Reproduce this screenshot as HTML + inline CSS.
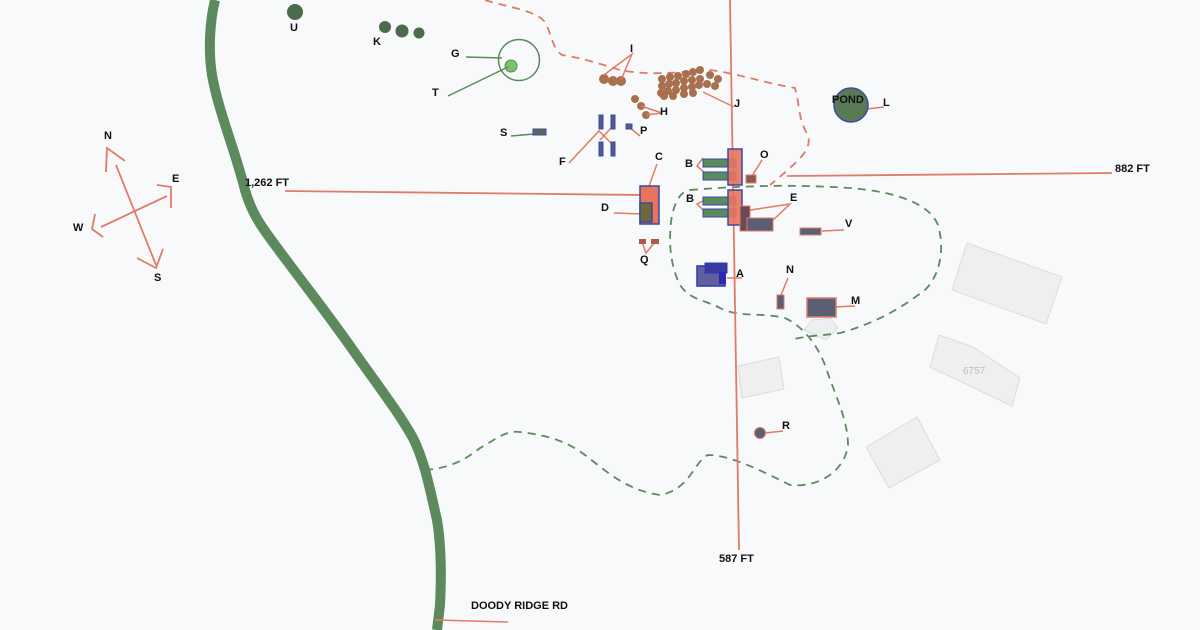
<!DOCTYPE html>
<html><head><meta charset="utf-8"><style>
html,body{margin:0;padding:0;background:#f8f9fb;}
svg{display:block;font-family:"Liberation Sans",sans-serif;}
text{font-size:11px;font-weight:bold;fill:#111;}
</style></head><body>
<svg width="1200" height="630" viewBox="0 0 1200 630" xmlns="http://www.w3.org/2000/svg">
<rect width="1200" height="630" fill="#f8f9fb"/>
<!-- gray buildings -->
<g fill="#efefef" stroke="#dcdcdc" stroke-width="1">
<polygon points="967,243 1062,277 1046,324 952,290"/>
<polygon points="939,335 973,347 1020,378 1012,406 930,367"/>
<polygon points="866,447 917,417 940,460 889,488"/>
<polygon points="738,366 779,357 784,389 742,398"/>
<polygon points="804,330 812,320 830,318 838,328 826,340"/>
</g>
<text x="963" y="374" style="font-size:10px;font-weight:normal;fill:#bbb">6757</text>
<!-- road -->
<path d="M215,0 C210,20 208,50 212,75 C218,110 235,150 245,190 C252,215 262,228 290,265 C310,292 325,310 360,360 C385,395 400,415 413,438 C425,462 430,490 437,520 C442,550 441,585 440,605 L437,630" fill="none" stroke="#5c8a5c" stroke-width="10"/>
<line x1="435" y1="620" x2="508" y2="622" stroke="#e07b67" stroke-width="1.5"/>
<text x="471" y="609">DOODY RIDGE RD</text>
<!-- orange dashed -->
<path d="M485,0 C510,8 535,10 545,22 C552,35 552,48 562,55 C580,58 595,62 620,70 C650,76 680,72 710,70 C740,74 760,82 795,88 C800,105 798,120 808,135 C812,150 800,160 770,185" fill="none" stroke="#e07b67" stroke-width="1.8" stroke-dasharray="8,6"/>
<!-- green dashed -->
<path d="M690,190 C740,186 790,184 850,188 C900,192 930,205 938,225 C945,250 940,275 925,290 C905,305 880,322 840,333 C820,336 810,335 790,340" fill="none" stroke="#5c8a5c" stroke-width="1.8" stroke-dasharray="8,6"/>
<path d="M425,470 C450,468 465,460 480,448 C495,440 505,430 520,432 C545,435 565,440 585,455 C605,470 625,490 660,495 C690,490 695,460 708,455 C730,455 760,470 790,485 C820,488 845,470 848,445 C848,420 835,395 825,365 C815,340 800,325 785,318 C760,312 740,318 720,308 C705,300 690,300 680,285 C670,265 668,240 672,215 C676,200 680,192 690,190" fill="none" stroke="#5c8a5c" stroke-width="1.8" stroke-dasharray="8,6"/>
<!-- measurement lines -->
<g stroke="#e07b67" stroke-width="1.8" fill="none">
<line x1="285" y1="191" x2="640" y2="195"/>
<line x1="787" y1="176" x2="1112" y2="173"/>
<line x1="730" y1="0" x2="739" y2="550"/>
<!-- compass -->
<line x1="116" y1="165" x2="156" y2="265"/>
<polyline points="125,161 107,148 106,172"/>
<polyline points="137,258 156,268 163,249"/>
<line x1="101" y1="227" x2="167" y2="196"/>
<polyline points="157,185 171,187 171,208"/>
<polyline points="95,214 92,229 103,237"/>
</g>
<text x="104" y="139">N</text><text x="172" y="182">E</text><text x="73" y="231">W</text><text x="154" y="281">S</text>
<text x="245" y="186">1,262 FT</text><text x="1115" y="172">882 FT</text><text x="719" y="562">587 FT</text>
<!-- U, K -->
<g fill="#4c6a4c"><circle cx="295" cy="12" r="8"/><circle cx="385" cy="27" r="6"/><circle cx="402" cy="31" r="6.5"/><circle cx="419" cy="33" r="5.5"/></g>
<text x="290" y="31">U</text><text x="373" y="45">K</text>
<!-- G T -->
<circle cx="519" cy="60" r="20.5" fill="none" stroke="#5c8a5c" stroke-width="1.5"/>
<circle cx="511" cy="66" r="6" fill="#77c26a" stroke="#5c8a5c"/>
<g stroke="#5c8a5c" stroke-width="1.5"><line x1="466" y1="57" x2="502" y2="58"/><line x1="448" y1="96" x2="508" y2="67"/><line x1="511" y1="136" x2="534" y2="134"/></g>
<text x="451" y="57">G</text><text x="432" y="96">T</text><text x="500" y="136">S</text>
<rect x="533" y="129" width="13" height="6" fill="#5a6a5a" stroke="#3b4aa0"/>
<!-- I, H -->
<g fill="#a8704e"><circle cx="604" cy="79" r="5"/><circle cx="613" cy="81" r="5"/><circle cx="621" cy="81" r="5"/>
<circle cx="635" cy="99" r="4"/><circle cx="641" cy="106" r="4"/><circle cx="646" cy="115" r="4"/>
<circle cx="662" cy="79" r="4"/><circle cx="670" cy="77" r="4"/><circle cx="678" cy="76" r="4"/><circle cx="686" cy="74" r="4"/><circle cx="693" cy="72" r="4"/><circle cx="700" cy="70" r="4"/><circle cx="710" cy="75" r="4"/><circle cx="718" cy="79" r="4"/>
<circle cx="662" cy="86" r="4"/><circle cx="669" cy="84" r="4"/><circle cx="676" cy="83" r="4"/><circle cx="684" cy="81" r="4"/><circle cx="692" cy="80" r="4"/><circle cx="700" cy="79" r="4"/><circle cx="707" cy="84" r="4"/><circle cx="715" cy="86" r="4"/>
<circle cx="661" cy="93" r="4"/><circle cx="668" cy="91" r="4"/><circle cx="676" cy="90" r="4"/><circle cx="684" cy="88" r="4"/><circle cx="692" cy="87" r="4"/><circle cx="699" cy="85" r="4"/>
<circle cx="664" cy="96" r="4"/><circle cx="673" cy="96" r="4"/><circle cx="684" cy="94" r="4"/><circle cx="693" cy="93" r="4"/></g>
<g stroke="#e07b67" stroke-width="1.5" fill="none">
<polyline points="604,75 632,54 621,80"/><polyline points="641,106 662,113 646,115"/>
<line x1="703" y1="92" x2="734" y2="107"/>
<polyline points="569,163 599,131 613,145"/><line x1="600" y1="140" x2="612" y2="127"/>
<line x1="629" y1="127" x2="640" y2="136"/>
<line x1="648" y1="189" x2="657" y2="164"/><line x1="614" y1="213" x2="645" y2="214"/>
<polyline points="642,242 646,253 655,242"/>
<polyline points="703,158 697,166 705,173"/><polyline points="703,201 697,204 705,212"/>
<line x1="752" y1="176" x2="762" y2="160"/>
<polyline points="744,211 790,204 771,222"/>
<line x1="822" y1="231" x2="844" y2="230"/>
<line x1="727" y1="278" x2="742" y2="278"/>
<line x1="781" y1="295" x2="788" y2="278"/>
<line x1="834" y1="307" x2="855" y2="306"/>
<line x1="765" y1="433" x2="783" y2="431"/>
<line x1="858" y1="110" x2="884" y2="107"/>
</g>
<text x="630" y="52">I</text><text x="660" y="115">H</text><text x="734" y="107">J</text><text x="640" y="134">P</text><text x="559" y="165">F</text>
<text x="655" y="160">C</text><text x="601" y="211">D</text><text x="640" y="263">Q</text>
<text x="685" y="167">B</text><text x="686" y="202">B</text><text x="760" y="158">O</text><text x="790" y="201">E</text><text x="845" y="227">V</text>
<text x="736" y="277">A</text><text x="786" y="273">N</text><text x="851" y="304">M</text><text x="782" y="429">R</text>
<text x="832" y="103">POND</text><text x="883" y="106">L</text>
<!-- F bars -->
<g fill="#4e5c92" stroke="#3b4aa0"><rect x="599" y="115" width="4" height="14"/><rect x="611" y="115" width="4" height="14"/><rect x="599" y="142" width="4" height="14"/><rect x="611" y="142" width="4" height="14"/>
<rect x="626" y="124" width="6" height="5"/></g>
<!-- C D -->
<rect x="640" y="186" width="19" height="38" fill="#e8735e" stroke="#3b4aa0" stroke-width="1.5"/>
<rect x="640" y="203" width="12" height="19" fill="#6b6a3a" stroke="#3b4aa0" stroke-width="1.5"/>
<rect x="639" y="239" width="7" height="5" fill="#b05a4a"/><rect x="651" y="239" width="8" height="5" fill="#b05a4a"/>
<!-- B -->
<g fill="#5a8a5e" stroke="#3b4aa0"><rect x="703" y="159" width="33" height="8"/><rect x="703" y="172" width="33" height="8"/><rect x="703" y="197" width="33" height="8"/><rect x="703" y="209" width="33" height="8"/></g>
<rect x="728" y="149" width="14" height="36" fill="#e8735e" fill-opacity=".9" stroke="#3b4aa0" stroke-width="1.5"/>
<rect x="728" y="190" width="14" height="35" fill="#e8735e" fill-opacity=".9" stroke="#3b4aa0" stroke-width="1.5"/>
<rect x="746" y="175" width="10" height="8" fill="#8a5a50" stroke="#e07b67"/>
<rect x="740" y="206" width="10" height="25" fill="#6a4a55" stroke="#e07b67"/>
<rect x="747" y="218" width="26" height="13" fill="#5a5f73" stroke="#e07b67"/>
<rect x="800" y="228" width="21" height="7" fill="#5a5f73" stroke="#e07b67"/>
<!-- A -->
<rect x="697" y="266" width="28" height="20" fill="#5f5f9e" stroke="#2a3ab0" stroke-width="1.5"/>
<rect x="705" y="263" width="22" height="10" fill="#3a3aa0" stroke="#2a3ab0"/>
<rect x="719" y="272" width="7" height="12" fill="#2a2ab0"/>
<!-- N M R -->
<rect x="777" y="295" width="7" height="14" fill="#5a5f73" stroke="#e07b67"/>
<rect x="807" y="298" width="29" height="19" fill="#5a5f73" stroke="#e07b67" stroke-width="1.5"/>
<circle cx="760" cy="433" r="5.5" fill="#5a5f73" stroke="#e07b67"/>
<!-- pond -->
<circle cx="851" cy="105" r="17" fill="#5a7a55" stroke="#3b4aa0" stroke-width="1.5"/>
<text x="832" y="103">POND</text>
</svg>
</body></html>
